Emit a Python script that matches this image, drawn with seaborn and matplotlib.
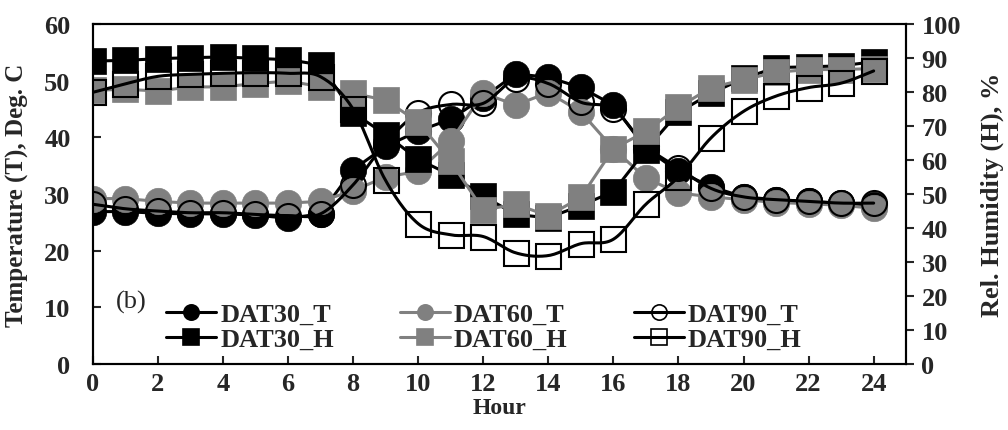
import numpy as np
import matplotlib
matplotlib.use('Agg')
import matplotlib.pyplot as plt
from matplotlib.lines import Line2D
import seaborn as sns

hours = list(range(25))

# temperature, deg C (left axis)
dat30_t = [26.9, 26.9, 26.6, 26.5, 26.5, 26.3, 25.7, 26.5, 34.3, 38.4, 41.1, 43.2, 47.0,
           51.2, 50.6, 48.8, 45.7, 38.0, 34.0, 31.3, 29.5, 29.0, 28.7, 28.4, 28.0]
dat60_t = [29.2, 29.2, 28.7, 28.4, 28.4, 28.4, 28.4, 28.7, 30.6, 33.0, 34.0, 39.3, 47.8,
           45.7, 47.9, 44.5, 38.0, 32.8, 30.2, 29.5, 29.0, 28.5, 28.3, 28.0, 27.5]
dat90_t = [28.2, 27.4, 27.0, 26.7, 26.7, 26.4, 26.2, 26.5, 31.6, 39.0, 44.3, 45.8, 46.0,
           50.3, 49.5, 46.2, 45.0, 38.5, 34.6, 31.0, 29.5, 29.0, 28.7, 28.4, 28.4]

# relative humidity, % (right axis)
dat30_h = [89.1, 89.3, 89.8, 90.1, 90.3, 89.9, 89.5, 88.0, 73.9, 67.5, 60.2, 55.6, 49.4,
           44.0, 43.0, 46.6, 50.7, 63.0, 74.0, 79.6, 84.0, 87.2, 87.4, 87.7, 88.9]
dat60_h = [80.5, 80.8, 80.3, 81.5, 81.5, 82.5, 83.2, 81.6, 79.6, 77.6, 71.2, 59.6, 45.3,
           47.0, 43.6, 49.0, 63.3, 68.4, 75.5, 81.3, 83.6, 85.8, 86.6, 86.6, 86.9]
dat90_h = [79.9, 82.4, 84.6, 85.2, 85.5, 85.7, 85.5, 84.5, 75.0, 54.0, 41.3, 38.0, 37.5,
           32.7, 31.9, 35.4, 36.7, 47.0, 55.0, 66.5, 74.3, 78.8, 81.3, 82.6, 86.2]


def smoothLine(x, y, n=16):
    # catmull-rom curve through the points, like excel's "smoothed line"
    x = np.asarray(x, float)
    y = np.asarray(y, float)
    px = np.concatenate([[x[0]], x, [x[-1]]])
    py = np.concatenate([[y[0]], y, [y[-1]]])
    t = np.linspace(0, 1, n, endpoint=False)
    xs, ys = [], []
    for i in range(len(x) - 1):
        for p, out in ((px, xs), (py, ys)):
            p0, p1, p2, p3 = p[i], p[i + 1], p[i + 2], p[i + 3]
            out.extend(0.5 * (2 * p1 + (-p0 + p2) * t + (2 * p0 - 5 * p1 + 4 * p2 - p3) * t ** 2
                              + (-p0 + 3 * p1 - 3 * p2 + p3) * t ** 3))
    xs.append(x[-1])
    ys.append(y[-1])
    return np.array(xs), np.array(ys)


sns.set_style('ticks')
plt.rcParams['font.family'] = ['Liberation Serif', 'DejaVu Serif']
plt.rcParams['font.weight'] = 'bold'
plt.rcParams['font.size'] = 19

GREY = '#808080'
MS = 19
LW = 2.2

fig, ax = plt.subplots(figsize=(10.08, 4.31), dpi=100)
fig.subplots_adjust(left=0.092, right=0.899, top=0.942, bottom=0.153)
ax2 = ax.twinx()


def plotFilled(axis, y, color, marker):
    sns.lineplot(x=hours, y=y, ax=axis, color=color, lw=LW, marker=marker, markersize=MS,
                 markeredgecolor=color, markerfacecolor=color, markeredgewidth=0.5)


def plotOpen(axis, y, marker):
    sx, sy = smoothLine(hours, y)
    sns.lineplot(x=sx, y=sy, ax=axis, color='black', lw=LW)
    axis.plot(hours, y, ls='none', marker=marker, markersize=MS - 1, markerfacecolor='none',
              markeredgecolor='black', markeredgewidth=1.5)


plotFilled(ax, dat30_t, 'black', 'o')
plotFilled(ax, dat60_t, GREY, 'o')
plotOpen(ax, dat90_t, 'o')
plotFilled(ax2, dat30_h, 'black', 's')
plotFilled(ax2, dat60_h, GREY, 's')
plotOpen(ax2, dat90_h, 's')

ax.set_xlim(0, 25)
ax.set_xticks(range(0, 25, 2))
ax.set_ylim(0, 60)
ax.set_yticks(range(0, 61, 10))
ax2.set_ylim(0, 100)
ax2.set_yticks(range(0, 101, 10))

ax.tick_params(axis='x', direction='in', length=6, width=1.5, pad=6)
ax.tick_params(axis='y', direction='in', length=6, width=1.5, pad=16)
ax2.tick_params(direction='out', length=6, width=1.5, pad=5)
for a in (ax, ax2):
    for s in a.spines.values():
        s.set_linewidth(1.5)
        s.set_color('black')

ax.set_xlabel('Hour', fontweight='bold', fontsize=17, labelpad=1)
ax.set_ylabel('Temperature (T), Deg. C', fontweight='bold', fontsize=18)
ax.yaxis.set_label_coords(-0.078, 0.5)
ax2.set_ylabel('Rel. Humidity (H), %', fontweight='bold', labelpad=14)


def handle(color, marker, filled=True):
    return Line2D([], [], color=color, lw=LW, marker=marker, markersize=11,
                  markerfacecolor=color if filled else 'none', markeredgecolor=color,
                  markeredgewidth=1.2)


handles = [handle('black', 'o'), handle('black', 's'),
           handle(GREY, 'o'), handle(GREY, 's'),
           handle('black', 'o', False), handle('black', 's', False)]
labels = ['DAT30_T', 'DAT30_H', 'DAT60_T', 'DAT60_H', 'DAT90_T', 'DAT90_H']
ax2.legend(handles, labels, ncol=3, loc='lower left', bbox_to_anchor=(0.074, 0.0),
           frameon=False, borderpad=0, handlelength=1.9, handletextpad=0.15,
           columnspacing=2.5, labelspacing=0.05)

ax.text(0.028, 0.185, '(b)', transform=ax.transAxes, fontweight='normal', fontsize=19,
        va='center', ha='left', zorder=1)

fig.savefig('out.png', dpi=100)
